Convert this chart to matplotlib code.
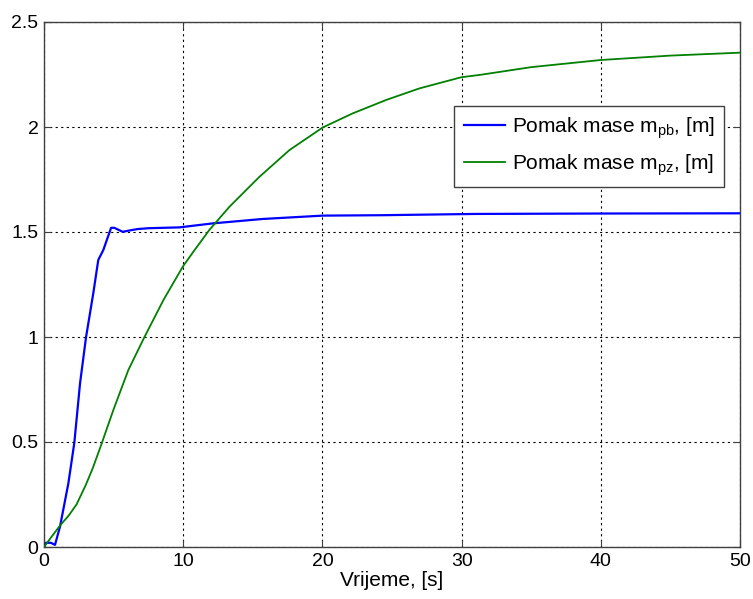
import matplotlib
matplotlib.use("Agg")
import matplotlib.pyplot as plt

plt.rcParams['font.family'] = ['Liberation Sans', 'DejaVu Sans']
plt.rcParams['mathtext.default'] = 'regular'

# Data
t_pb = [0, 0.15, 0.5, 0.79, 1.15, 1.75, 2.18, 2.59, 3.02, 3.54, 3.9, 4.26, 4.82, 5.05, 5.65, 6.37, 6.73, 7.5,
        9.73, 12.12, 15.7, 20.03, 24.3, 31, 40, 50]
y_pb = [0, 0.02, 0.02, 0.01, 0.097, 0.303, 0.497, 0.78, 0.999, 1.208, 1.367, 1.414, 1.52, 1.52, 1.501, 1.51, 1.514, 1.518,
        1.522, 1.541, 1.562, 1.578, 1.58, 1.586, 1.588, 1.589]

t_pz = [0, 0.5, 1.15, 1.8, 2.34, 3.0, 3.5, 4.14, 4.98, 6.06, 7.21, 8.58, 9.97, 10.73, 11.88, 13.32, 15.48, 17.63, 20.03,
        22.18, 24.59, 26.98, 29.98, 31.3, 35, 40, 45, 50]
y_pz = [0, 0.045, 0.102, 0.152, 0.203, 0.295, 0.375, 0.492, 0.652, 0.843, 0.999, 1.176, 1.335, 1.406, 1.51, 1.62, 1.763, 1.89, 1.998,
        2.065, 2.129, 2.184, 2.237, 2.248, 2.285, 2.319, 2.34, 2.354]

xticks = [0, 10, 20, 30, 40, 50]
yticks = [0, 0.5, 1, 1.5, 2, 2.5]
labels = [r'Pomak mase m$_{pb}$, [m]', r'Pomak mase m$_{pz}$, [m]']

fig = plt.figure(figsize=(7.53, 5.99), dpi=100)
ax = fig.add_axes([44/753, 1-547/599, 696/753, 525/599])

ax.plot(t_pb, y_pb, color=(0, 0, 1), lw=1.6, label=labels[0], zorder=3)
ax.plot(t_pz, y_pz, color=(0, 0.5, 0), lw=1.3, label=labels[1], zorder=3)

ax.set_xlim(0, 50)
ax.set_ylim(0, 2.5)
ax.set_xticks(xticks)
ax.set_yticks(yticks)
ax.set_xticklabels([str(v) for v in xticks])
ax.set_yticklabels(['0', '0.5', '1', '1.5', '2', '2.5'])
ax.tick_params(direction='in', top=True, right=True, labelsize=14, length=5, color='#404040', pad=4)
ax.grid(True, color='black', linestyle=(0, (2, 3)), linewidth=0.8)
for s in ax.spines.values():
    s.set_color('#404040')
    s.set_linewidth(1.0)

ax.set_xlabel('Vrijeme, [s]', fontsize=15, labelpad=1)

leg = ax.legend(loc='upper right', bbox_to_anchor=(0.977, 0.84), fontsize=15,
                fancybox=False, framealpha=1, edgecolor='#404040',
                handlelength=2.0, handletextpad=0.3, borderpad=0.45, labelspacing=0.55,
                borderaxespad=0)
leg.get_frame().set_linewidth(1.0)

fig.savefig('out.png', dpi=100)
